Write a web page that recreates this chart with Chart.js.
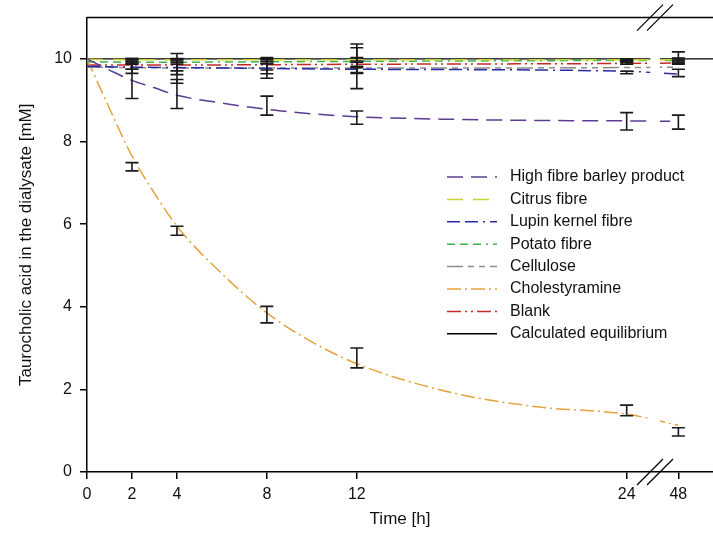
<!DOCTYPE html>
<html>
<head>
<meta charset="utf-8">
<script src="https://cdn.jsdelivr.net/npm/chart.js@4.4.1/dist/chart.umd.min.js"></script>
<style>
  html, body { margin: 0; padding: 0; background: #fff; }
  #wrap { width: 713px; height: 549px; }
</style>
</head>
<body>
<div id="wrap"><canvas id="chart"></canvas></div>
<script>
// time axis [h]; 48 h is drawn just after the axis break
const tickTimes = [0, 2, 4, 8, 12, 24, 48];
const tickLabels = ['0', '2', '4', '8', '12', '24', '48'];
const yTicks = [0, 2, 4, 6, 8, 10];

// fitted curves
const curveTimes = [0, 1, 2, 3, 4, 6, 8, 10, 12, 16, 20, 24, 48];
const barleyFit = [10, 9.73, 9.48, 9.3, 9.12, 8.93, 8.78, 8.67, 8.6, 8.54, 8.51, 8.5, 8.49];
const cholFit = [10, 8.8, 7.65, 6.75, 5.95, 4.8, 3.85, 3.15, 2.62, 1.95, 1.58, 1.4, 1.13];

const flatTimes = [0, 2, 4, 8, 12, 24, 48];
const citrusFit = [9.99, 9.98, 9.98, 9.98, 9.98, 9.98, 9.98];
const lupinFit = [9.82, 9.8, 9.79, 9.77, 9.75, 9.7, 9.63];
const potatoFit = [9.93, 9.92, 9.92, 9.93, 9.94, 9.96, 9.96];
const celluloseFit = [9.8, 9.79, 9.78, 9.78, 9.78, 9.79, 9.8];
const blankFit = [9.85, 9.85, 9.85, 9.86, 9.87, 9.89, 9.9];
const equilibrium = 10;

// measured means and SD
const measTimes = [2, 4, 8, 12, 24, 48];
const barleyMean = [9.47, 9.15, 8.87, 8.58, 8.49, 8.47];
const barleySd = [0.43, 0.35, 0.23, 0.16, 0.21, 0.17];
const cholMean = [7.39, 5.84, 3.81, 2.76, 1.49, 0.97];
const cholSd = [0.1, 0.11, 0.2, 0.24, 0.13, 0.1];
const lupinMean = [9.81, 9.81, 9.76, 9.72, 9.67, 9.66];
const lupinSd = [0.06, 0.1, 0.12, 0.07, 0.03, 0.09];
const celluloseMean = [9.83, 9.77, 9.78, 9.82, 9.9, 10.03];
const celluloseSd = [0.18, 0.36, 0.25, 0.54, 0.03, 0.14];
const potatoMean = [9.93, 9.93, 9.94, 9.97, 9.95, 9.97];
const potatoSd = [0.05, 0.06, 0.05, 0.3, 0.03, 0.05];
const citrusMean = [9.97, 9.98, 9.98, 9.99, 9.98, 9.98];
const citrusSd = [0.04, 0.03, 0.03, 0.04, 0.02, 0.03];
const blankMean = [9.85, 9.8, 9.83, 9.87, 9.9, 9.92];
const blankSd = [0.1, 0.18, 0.1, 0.05, 0.03, 0.05];

const X_48 = 26.3;       // where 48 h sits on the compressed axis
const X_MAX = 27.84;
const BREAK_AT = 25.26;
const GAP = [25.05, 25.48];

const xPos = t => (t > 24 ? X_48 : t);
const pts = (times, vals) => times.map((t, i) => ({ x: xPos(t), y: vals[i] }));

const FONT = '"Liberation Sans", Arial, sans-serif';

function series(label, color, dash, times, vals) {
    return {
        label: label,
        data: pts(times, vals),
        borderColor: color,
        borderDash: dash,
        borderWidth: 1.5,
        pointRadius: 0,
        fill: false,
        cubicInterpolationMode: 'monotone',
    };
}

const datasets = [
    series('High fibre barley product', '#5c3c92', [16, 8], curveTimes, barleyFit),
    series('Citrus fibre', '#c9d13d', [16, 10], flatTimes, citrusFit),
    series('Lupin kernel fibre', '#2a2aa6', [13, 5, 13, 5, 2, 5], flatTimes, lupinFit),
    series('Potato fibre', '#3db54a', [8, 5, 8, 5, 8, 5, 2, 5], flatTimes, potatoFit),
    series('Cellulose', '#8c8c8c', [16, 5, 6, 5, 6, 5], flatTimes, celluloseFit),
    series('Cholestyramine', '#e6a23c', [14, 4, 2, 4], curveTimes, cholFit),
    series('Blank', '#c62828', [14, 4, 2, 4, 2, 4], flatTimes, blankFit),
    {
        label: 'Calculated equilibrium',
        data: [{ x: 0, y: equilibrium }, { x: X_MAX, y: equilibrium }],
        borderColor: '#000',
        borderDash: [],
        borderWidth: 1.3,
        pointRadius: 0,
        fill: false,
    },
];

const measured = [
    { mean: barleyMean, sd: barleySd },
    { mean: cholMean, sd: cholSd },
    { mean: lupinMean, sd: lupinSd },
    { mean: celluloseMean, sd: celluloseSd },
    { mean: potatoMean, sd: potatoSd },
    { mean: citrusMean, sd: citrusSd },
    { mean: blankMean, sd: blankSd },
];

// white gap at the break + error bars
const errorBars = {
    id: 'errorBars',
    afterDatasetsDraw(chart) {
        const { ctx, chartArea, scales: { x, y } } = chart;
        ctx.save();
        const g0 = x.getPixelForValue(GAP[0]);
        const g1 = x.getPixelForValue(GAP[1]);
        ctx.fillStyle = '#fff';
        ctx.fillRect(g0, chartArea.top + 1, g1 - g0, chartArea.bottom - chartArea.top - 2);

        ctx.strokeStyle = '#1a1a1a';
        ctx.lineWidth = 1.6;
        measured.forEach(m => {
            measTimes.forEach((t, i) => {
                const px = x.getPixelForValue(xPos(t));
                const top = y.getPixelForValue(m.mean[i] + m.sd[i]);
                const bot = y.getPixelForValue(m.mean[i] - m.sd[i]);
                ctx.beginPath();
                ctx.moveTo(px, top); ctx.lineTo(px, bot);
                ctx.moveTo(px - 6.5, top); ctx.lineTo(px + 6.5, top);
                ctx.moveTo(px - 6.5, bot); ctx.lineTo(px + 6.5, bot);
                ctx.stroke();
            });
        });
        ctx.restore();
    }
};

// top frame line, break marks and the legend inside the plot
const frameAndLegend = {
    id: 'frameAndLegend',
    afterDraw(chart) {
        const { ctx, chartArea, scales: { x } } = chart;
        ctx.save();
        ctx.strokeStyle = '#000';
        ctx.lineWidth = 1.5;
        ctx.beginPath();
        ctx.moveTo(chartArea.left, chartArea.top);
        ctx.lineTo(chartArea.right, chartArea.top);
        ctx.stroke();

        const cx = x.getPixelForValue(BREAK_AT);
        ctx.lineWidth = 1.2;
        [chartArea.top, chartArea.bottom].forEach(by => {
            [-5, 5].forEach(dx => {
                ctx.beginPath();
                ctx.moveTo(cx + dx - 13, by + 13);
                ctx.lineTo(cx + dx + 13, by - 13);
                ctx.stroke();
            });
        });

        ctx.font = '16px ' + FONT;
        ctx.textBaseline = 'middle';
        ctx.fillStyle = '#111';
        chart.data.datasets.forEach((ds, i) => {
            const ly = 177 + i * 22.4;
            ctx.strokeStyle = ds.borderColor;
            ctx.lineWidth = 1.5;
            ctx.setLineDash(ds.borderDash);
            ctx.beginPath();
            ctx.moveTo(447, ly);
            ctx.lineTo(497, ly);
            ctx.stroke();
            ctx.setLineDash([]);
            ctx.fillText(ds.label, 510, ly);
        });
        ctx.restore();
    }
};

new Chart(document.getElementById('chart'), {
    type: 'line',
    data: { datasets: datasets },
    options: {
        responsive: true,
        maintainAspectRatio: false,
        animation: false,
        layout: { padding: { top: 17, right: 0, bottom: 0, left: 0 } },
        plugins: {
            legend: { display: false },
            tooltip: { enabled: false },
        },
        scales: {
            x: {
                type: 'linear',
                min: 0,
                max: X_MAX,
                afterBuildTicks: s => { s.ticks = tickTimes.map(t => ({ value: xPos(t) })); },
                afterFit: s => { s.height = 77; },
                ticks: {
                    autoSkip: false,
                    maxRotation: 0,
                    padding: 6,
                    color: '#111',
                    font: { family: FONT, size: 16 },
                    callback: (v, i) => tickLabels[i],
                },
                grid: { drawOnChartArea: false, tickLength: 7, color: '#000', lineWidth: 1.5 },
                border: { display: true, color: '#000', width: 1.5 },
                title: {
                    display: true,
                    text: 'Time [h]',
                    color: '#111',
                    font: { family: FONT, size: 17 },
                    padding: { top: 0, bottom: 19 },
                },
            },
            y: {
                min: 0,
                max: 11,
                afterBuildTicks: s => { s.ticks = yTicks.map(v => ({ value: v })); },
                afterFit: s => { s.width = 87; },
                ticks: {
                    padding: 8,
                    color: '#111',
                    font: { family: FONT, size: 16 },
                },
                grid: { drawOnChartArea: false, tickLength: 7, color: '#000', lineWidth: 1.5 },
                border: { display: true, color: '#000', width: 1.5 },
                title: {
                    display: true,
                    text: 'Taurocholic acid in the dialysate [mM]',
                    color: '#111',
                    font: { family: FONT, size: 17 },
                    padding: { top: 16, bottom: 0 },
                },
            },
        },
    },
    plugins: [errorBars, frameAndLegend],
});
</script>
</body>
</html>
